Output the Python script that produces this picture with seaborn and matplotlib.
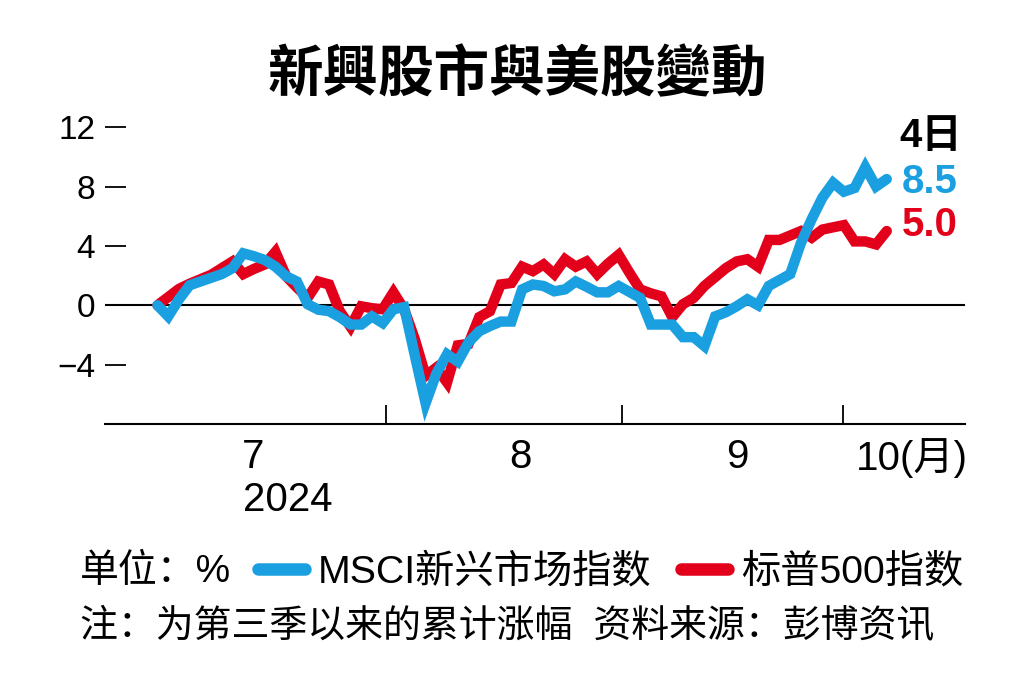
import matplotlib
matplotlib.use('Agg')
import matplotlib.pyplot as plt
from matplotlib.lines import Line2D
import numpy as np
import pandas as pd
import seaborn as sns

sns.set_style('white')
plt.rcParams['font.family'] = ['Liberation Sans', 'Noto Sans CJK SC']
plt.rcParams['axes.unicode_minus'] = True
plt.rcParams['text.color'] = 'black'
plt.rcParams['xtick.color'] = 'black'
plt.rcParams['ytick.color'] = 'black'

# cumulative change since start of Q3 (%), one value per trading day, Jul 1 -> Oct 4
msci_em = [0, -0.75, 0.4, 1.35, 1.6, 1.85, 2.1, 2.5, 3.5, 3.3,
           3.05, 2.6, 1.95, 1.6, 0.07, -0.3, -0.4, -0.8, -1.3, -1.3,
           -0.75, -1.2, -0.27, -0.13, -3.4, -6.6, -4.6, -3.3, -3.8, -2.5,
           -1.75, -1.4, -1.1, -1.1, 1.07, 1.4, 1.3, 0.94, 1.07, 1.6,
           1.25, 0.87, 0.87, 1.3, 0.9, 0.5, -1.3, -1.3, -1.3, -2.15,
           -2.15, -2.75, -0.75, -0.47, -0.07, 0.4, 0, 1.3, 1.7, 2.1,
           4.2, 5.8, 7.25, 8.25, 7.65, 7.9, 9.3, 8.0, 8.5]
sp500 = [0, 0.55, 1.1, 1.45, 1.75, 2.05, 2.5, 2.95, 2.1, 2.45,
         2.75, 3.6, 1.95, 1.2, 0.5, 1.6, 1.4, -0.4, -1.45, -0.07,
         -0.2, -0.27, 0.87, -0.27, -2.3, -4.75, -4.2, -5.2, -2.7, -2.6,
         -0.8, -0.4, 1.4, 1.5, 2.6, 2.3, 2.75, 2.1, 3.1, 2.6,
         2.95, 2.1, 2.8, 3.4, 2.2, 1.07, 0.8, 0.6, -0.8, 0.07,
         0.5, 1.3, 1.9, 2.5, 2.95, 3.1, 2.6, 4.4, 4.4, 4.7,
         5.0, 4.55, 5.1, 5.25, 5.4, 4.3, 4.3, 4.1, 5.0]
day = list(range(len(msci_em)))

series_names = ['MSCI新兴市场指数', '标普500指数']
colors = {'MSCI新兴市场指数': '#1a9fe0', '标普500指数': '#e2001a'}
end_labels = ['8.5', '5.0']

month_bounds = [21.3, 43.3, 63.9]       # trading-day position of month changes
month_pos = [8.9, 33.8, 54.1, 70.3]
month_labels = ['7', '8', '9', '10(月)']
y_ticks = [-4, 0, 4, 8, 12]

df = pd.DataFrame({
    'day': day * 2,
    'value': msci_em + sp500,
    'series': [series_names[0]] * len(day) + [series_names[1]] * len(day),
})

fig = plt.figure(figsize=(10.35, 6.9), dpi=100)
ax = fig.add_axes([0.1014, 0.3855, 0.831, 0.4367])

# red first so the blue line sits on top
sns.lineplot(data=df, x='day', y='value', hue='series',
             hue_order=[series_names[1], series_names[0]],
             palette=colors, linewidth=7.5, legend=False, ax=ax,
             solid_joinstyle='miter')

ax.axhline(0, color='black', lw=1.5, zorder=1)
ax.set_xlim(-4.9, 75.3)
ax.set_ylim(-8, 12.3)
for s in ['left', 'top', 'right']:
    ax.spines[s].set_visible(False)
ax.spines['bottom'].set_linewidth(1.5)
ax.spines['bottom'].set_color('black')

ax.set_yticks(y_ticks, labels=[str(v) if v >= 0 else '\u2212' + str(-v) for v in y_ticks])
ax.tick_params(axis='y', left=True, direction='in', length=15, width=1.3, pad=7,
               labelsize=24, color='black')
ax.set_xticks(month_bounds, labels=[''] * len(month_bounds))
ax.set_xticks(month_pos, labels=month_labels, minor=True)
ax.tick_params(axis='x', which='major', bottom=True, direction='in', length=14,
               width=1.3, color='black')
ax.tick_params(axis='x', which='minor', bottom=True, length=0, pad=10, labelsize=29)
ax.set_xlabel('')
ax.set_ylabel('')

# end-of-line values
last = len(day) - 1
ax.annotate(end_labels[0], xy=(day[last], msci_em[last]), xytext=(11, -2),
            textcoords='offset points', ha='left', va='center',
            fontsize=29, fontweight='bold', color=colors[series_names[0]])
ax.annotate(end_labels[1], xy=(day[last], sp500[last]), xytext=(11, 4),
            textcoords='offset points', ha='left', va='center',
            fontsize=29, fontweight='bold', color=colors[series_names[1]])
ax.annotate('4日', xy=(day[last], msci_em[last]), xytext=(9, 31),
            textcoords='offset points', ha='left', va='center',
            fontsize=29, fontweight='bold', color='black',
            family=['Liberation Sans', 'Noto Sans CJK TC'])

fig.text(0.5, 1 - 75 / 690, '新興股市與美股變動', ha='center', va='center',
         fontsize=40, fontweight='bold', family=['Noto Sans CJK TC'])
fig.text(243 / 1035, 1 - 500 / 690, '2024', ha='left', va='center', fontsize=29)

fig.text(80 / 1035, 1 - 572 / 690, '单位：%', ha='left', va='center', fontsize=28)
handles = [Line2D([], [], color=colors[n], lw=9, solid_capstyle='round') for n in series_names]
fig.legend(handles, series_names, loc='center left',
           bbox_to_anchor=(258 / 1035, 1 - 572 / 690), ncol=2, frameon=False,
           fontsize=28.3, handlelength=1.2, handletextpad=0.33, columnspacing=0.75,
           borderpad=0, borderaxespad=0)
fig.text(80 / 1035, 1 - 627 / 690, '注：为第三季以来的累计涨幅  资料来源：彭博资讯',
         ha='left', va='center', fontsize=27.3)

fig.savefig('out.png', dpi=100)
